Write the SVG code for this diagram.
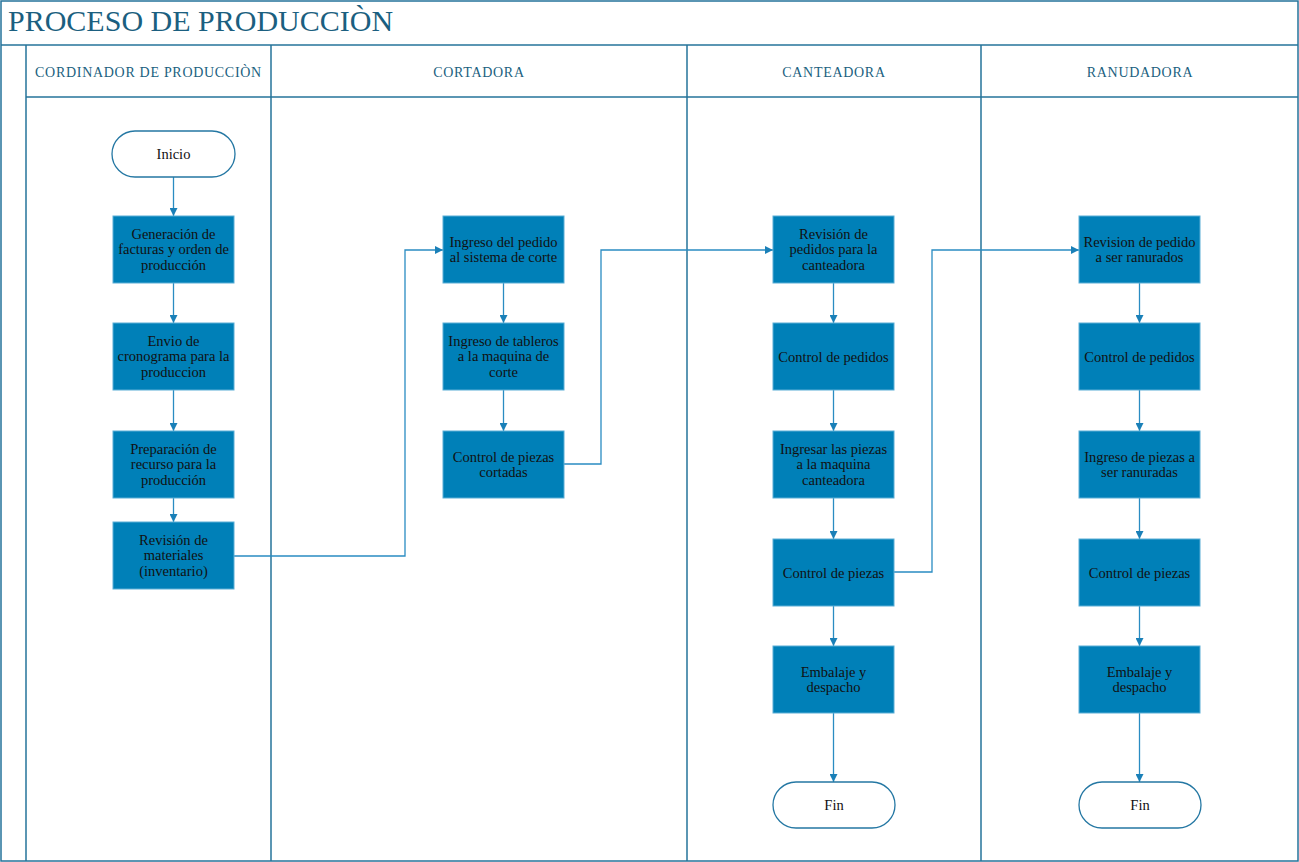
<svg xmlns="http://www.w3.org/2000/svg" width="1299" height="862" viewBox="0 0 1299 862">
  <style>
    .frame { fill: none; stroke: #24739a; stroke-width: 1.5; }
    .title { font-family: "Liberation Serif", "DejaVu Serif", serif; font-size: 30px; fill: #1b5f80; }
    .lane { font-family: "Liberation Serif", "DejaVu Serif", serif; font-size: 14px; letter-spacing: 0.7px; fill: #1b5f80; text-anchor: middle; }
    .box { fill: #0080b8; stroke: #5aaed6; stroke-width: 1; }
    .term { fill: #ffffff; stroke: #2477a3; stroke-width: 1.3; }
    .lbl { font-family: "Liberation Serif", "DejaVu Serif", serif; font-size: 14.5px; fill: #111111; text-anchor: middle; }
    .conn { fill: none; stroke: #2a8cc2; stroke-width: 1.3; }
  </style>
  <defs>
    <marker id="arrow" viewBox="0 0 10 10" refX="10" refY="5" markerWidth="8" markerHeight="8" markerUnits="userSpaceOnUse" orient="auto">
      <path d="M0,0 L10,5 L0,10 Z" fill="#1a80b8"/>
    </marker>
  </defs>
  <rect width="1299" height="862" fill="#ffffff"/>

  <!-- pool frame and swimlanes -->
  <g id="pool">
    <rect class="frame" x="1" y="1" width="1297" height="860"/>
    <line class="frame" x1="1" y1="45" x2="1298" y2="45"/>
    <line class="frame" x1="26" y1="97" x2="1298" y2="97"/>
    <line class="frame" x1="26" y1="45" x2="26" y2="861"/>
    <line class="frame" x1="271" y1="45" x2="271" y2="861"/>
    <line class="frame" x1="687" y1="45" x2="687" y2="861"/>
    <line class="frame" x1="981" y1="45" x2="981" y2="861"/>
    <text class="title" x="8" y="31">PROCESO DE PRODUCCIÒN</text>
    <text class="lane" x="148.5" y="77">CORDINADOR DE PRODUCCIÒN</text>
    <text class="lane" x="479" y="77">CORTADORA</text>
    <text class="lane" x="834" y="77">CANTEADORA</text>
    <text class="lane" x="1140" y="77">RANUDADORA</text>
  </g>

  <!-- connectors -->
  <g id="connectors">
    <line class="conn" x1="173.5" y1="177" x2="173.5" y2="216" marker-end="url(#arrow)"/>
    <line class="conn" x1="173.5" y1="283" x2="173.5" y2="323" marker-end="url(#arrow)"/>
    <line class="conn" x1="173.5" y1="390" x2="173.5" y2="431" marker-end="url(#arrow)"/>
    <line class="conn" x1="173.5" y1="498" x2="173.5" y2="522" marker-end="url(#arrow)"/>
    <polyline class="conn" points="234,556 405,556 405,250 443,250" marker-end="url(#arrow)"/>

    <line class="conn" x1="503.5" y1="283" x2="503.5" y2="323" marker-end="url(#arrow)"/>
    <line class="conn" x1="503.5" y1="390" x2="503.5" y2="431" marker-end="url(#arrow)"/>
    <polyline class="conn" points="564,464 601,464 601,250 773,250" marker-end="url(#arrow)"/>

    <line class="conn" x1="833.5" y1="283" x2="833.5" y2="323" marker-end="url(#arrow)"/>
    <line class="conn" x1="833.5" y1="390" x2="833.5" y2="431" marker-end="url(#arrow)"/>
    <line class="conn" x1="833.5" y1="498" x2="833.5" y2="539" marker-end="url(#arrow)"/>
    <line class="conn" x1="833.5" y1="606" x2="833.5" y2="646" marker-end="url(#arrow)"/>
    <line class="conn" x1="833.5" y1="713" x2="833.5" y2="782" marker-end="url(#arrow)"/>
    <polyline class="conn" points="894,572 932,572 932,250 1079,250" marker-end="url(#arrow)"/>

    <line class="conn" x1="1139.5" y1="283" x2="1139.5" y2="323" marker-end="url(#arrow)"/>
    <line class="conn" x1="1139.5" y1="390" x2="1139.5" y2="431" marker-end="url(#arrow)"/>
    <line class="conn" x1="1139.5" y1="498" x2="1139.5" y2="539" marker-end="url(#arrow)"/>
    <line class="conn" x1="1139.5" y1="606" x2="1139.5" y2="646" marker-end="url(#arrow)"/>
    <line class="conn" x1="1139.5" y1="713" x2="1139.5" y2="782" marker-end="url(#arrow)"/>
  </g>

  <!-- CORDINADOR DE PRODUCCIÒN -->
  <g id="inicio">
    <rect class="term" x="112" y="131" width="123" height="46" rx="23"/>
    <text class="lbl" x="173.5" y="159">Inicio</text>
  </g>
  <g id="generacion">
    <rect class="box" x="113" y="216" width="121" height="67"/>
    <text class="lbl" x="173.5" y="238.5">Generación de<tspan x="173.5" dy="15.7">facturas y orden de</tspan><tspan x="173.5" dy="15.7">producción</tspan></text>
  </g>
  <g id="envio">
    <rect class="box" x="113" y="323" width="121" height="67"/>
    <text class="lbl" x="173.5" y="345.5">Envio de<tspan x="173.5" dy="15.7">cronograma para la</tspan><tspan x="173.5" dy="15.7">produccion</tspan></text>
  </g>
  <g id="preparacion">
    <rect class="box" x="113" y="431" width="121" height="67"/>
    <text class="lbl" x="173.5" y="453.5">Preparación de<tspan x="173.5" dy="15.7">recurso para la</tspan><tspan x="173.5" dy="15.7">producción</tspan></text>
  </g>
  <g id="revision-materiales">
    <rect class="box" x="113" y="522" width="121" height="67"/>
    <text class="lbl" x="173.5" y="544.5">Revisión de<tspan x="173.5" dy="15.7">materiales</tspan><tspan x="173.5" dy="15.7">(inventario)</tspan></text>
  </g>

  <!-- CORTADORA -->
  <g id="ingreso-pedido">
    <rect class="box" x="443" y="216" width="121" height="67"/>
    <text class="lbl" x="503.5" y="246.5">Ingreso del pedido<tspan x="503.5" dy="15.7">al sistema de corte</tspan></text>
  </g>
  <g id="ingreso-tableros">
    <rect class="box" x="443" y="323" width="121" height="67"/>
    <text class="lbl" x="503.5" y="345.5">Ingreso de tableros<tspan x="503.5" dy="15.7">a la maquina de</tspan><tspan x="503.5" dy="15.7">corte</tspan></text>
  </g>
  <g id="control-cortadas">
    <rect class="box" x="443" y="431" width="121" height="67"/>
    <text class="lbl" x="503.5" y="461.5">Control de piezas<tspan x="503.5" dy="15.7">cortadas</tspan></text>
  </g>

  <!-- CANTEADORA -->
  <g id="revision-canteadora">
    <rect class="box" x="773" y="216" width="121" height="67"/>
    <text class="lbl" x="833.5" y="238.5">Revisión de<tspan x="833.5" dy="15.7">pedidos para la</tspan><tspan x="833.5" dy="15.7">canteadora</tspan></text>
  </g>
  <g id="control-pedidos-c">
    <rect class="box" x="773" y="323" width="121" height="67"/>
    <text class="lbl" x="833.5" y="361.5">Control de pedidos</text>
  </g>
  <g id="ingresar-piezas">
    <rect class="box" x="773" y="431" width="121" height="67"/>
    <text class="lbl" x="833.5" y="453.5">Ingresar las piezas<tspan x="833.5" dy="15.7">a la maquina</tspan><tspan x="833.5" dy="15.7">canteadora</tspan></text>
  </g>
  <g id="control-piezas-c">
    <rect class="box" x="773" y="539" width="121" height="67"/>
    <text class="lbl" x="833.5" y="577.5">Control de piezas</text>
  </g>
  <g id="embalaje-c">
    <rect class="box" x="773" y="646" width="121" height="67"/>
    <text class="lbl" x="833.5" y="676.5">Embalaje y<tspan x="833.5" dy="15.7">despacho</tspan></text>
  </g>
  <g id="fin-c">
    <rect class="term" x="773" y="782" width="122" height="46" rx="23"/>
    <text class="lbl" x="834" y="810">Fin</text>
  </g>

  <!-- RANUDADORA -->
  <g id="revision-ranurados">
    <rect class="box" x="1079" y="216" width="121" height="67"/>
    <text class="lbl" x="1139.5" y="246.5">Revision de pedido<tspan x="1139.5" dy="15.7">a ser ranurados</tspan></text>
  </g>
  <g id="control-pedidos-r">
    <rect class="box" x="1079" y="323" width="121" height="67"/>
    <text class="lbl" x="1139.5" y="361.5">Control de pedidos</text>
  </g>
  <g id="ingreso-piezas-r">
    <rect class="box" x="1079" y="431" width="121" height="67"/>
    <text class="lbl" x="1139.5" y="461.5">Ingreso de piezas a<tspan x="1139.5" dy="15.7">ser ranuradas</tspan></text>
  </g>
  <g id="control-piezas-r">
    <rect class="box" x="1079" y="539" width="121" height="67"/>
    <text class="lbl" x="1139.5" y="577.5">Control de piezas</text>
  </g>
  <g id="embalaje-r">
    <rect class="box" x="1079" y="646" width="121" height="67"/>
    <text class="lbl" x="1139.5" y="676.5">Embalaje y<tspan x="1139.5" dy="15.7">despacho</tspan></text>
  </g>
  <g id="fin-r">
    <rect class="term" x="1079" y="782" width="122" height="46" rx="23"/>
    <text class="lbl" x="1140" y="810">Fin</text>
  </g>
</svg>
